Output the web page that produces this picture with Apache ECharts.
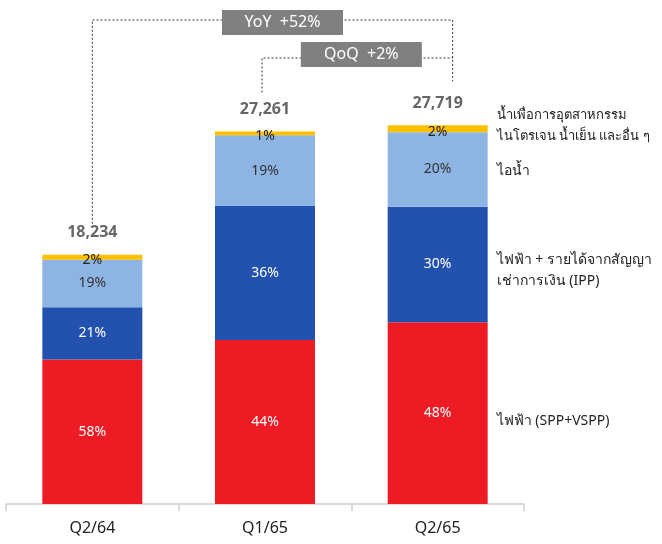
<!DOCTYPE html>
<html>
<head>
<meta charset="utf-8">
<script src="https://cdn.jsdelivr.net/npm/echarts@6/dist/echarts.min.js"></script>
<style>html,body{margin:0;padding:0;background:#fff}#c{width:662px;height:544px}</style>
</head>
<body>
<div id="c"></div>
<script>
const categories = ['Q2/64', 'Q1/65', 'Q2/65'];
const totals = [18234, 27261, 27719];
// segment values
const sppValues = [10576, 11995, 13300];
const ippValues = [3829, 9814, 8450];
const steamValues = [3464, 5180, 5450];
const otherValues = [365, 272, 519];
// percentage labels
const sppPct = [58, 44, 48];
const ippPct = [21, 36, 30];
const steamPct = [19, 19, 20];
const otherPct = [2, 1, 2];
const seriesNames = [
  'ไฟฟ้า (SPP+VSPP)',
  'ไฟฟ้า + รายได้จากสัญญา\nเช่าการเงิน (IPP)',
  'ไอน้ำ',
  'น้ำเพื่อการอุตสาหกรรม\nไนโตรเจน น้ำเย็น และอื่น ๆ'
];
const yoyText = 'YoY  +52%';
const qoqText = 'QoQ  +2%';

const FONT = "'Noto Sans', 'DejaVu Sans', sans-serif";
const colors = ['#ED1C24', '#2351AE', '#8DB4E2', '#FFC000'];
const valueSets = [sppValues, ippValues, steamValues, otherValues];
const pctSets = [sppPct, ippPct, steamPct, otherPct];
const labelColors = ['#ffffff', '#ffffff', '#333333', '#222222'];
const annoDy = [8, 6, 2, -3];
const annoSize = [14, 14, 14, 13];

const chart = echarts.init(document.getElementById('c'), null, {renderer: 'canvas'});

const last = categories.length - 1;
const series = valueSets.map((vals, si) => {
  let base = 0;
  for (let k = 0; k < si; k++) base += valueSets[k][last];
  const mid = base + vals[last] / 2;
  return {
    name: seriesNames[si],
    type: 'bar',
    stack: 'total',
    barWidth: 100,
    data: vals,
    itemStyle: {color: colors[si]},
    label: {
      show: true,
      position: 'inside',
      offset: si === 3 ? [0, 3] : [0, 0],
      color: labelColors[si],
      fontSize: 14,
      fontFamily: FONT,
      formatter: p => pctSets[si][p.dataIndex] + '%'
    },
    markPoint: {
      symbol: 'circle',
      symbolSize: 0,
      silent: true,
      data: [{coord: [categories[last], mid]}],
      label: {
        show: true,
        position: 'right',
        distance: 0,
        offset: [59, annoDy[si]],
        align: 'left',
        color: '#222',
        fontSize: annoSize[si],
        lineHeight: 21,
        fontFamily: FONT,
        formatter: () => seriesNames[si]
      }
    }
  };
});

series.push({
  type: 'scatter',
  data: totals,
  symbolSize: 0,
  silent: true,
  label: {
    show: true,
    position: 'top',
    distance: 14,
    color: '#404040',
    fontWeight: 'bold',
    fontSize: 16,
    fontFamily: FONT,
    formatter: p => p.value.toLocaleString('en-US')
  }
});

chart.setOption({
  animation: false,
  backgroundColor: '#ffffff',
  grid: {left: 6, right: 138, top: 12, bottom: 40},
  xAxis: {
    type: 'category',
    data: categories,
    axisLine: {lineStyle: {color: '#d0d0d0', width: 1.5}},
    axisTick: {show: true, length: 7, lineStyle: {color: '#d0d0d0', width: 1.5}},
    axisLabel: {color: '#222', fontSize: 16, margin: 16, fontFamily: FONT}
  },
  yAxis: {type: 'value', max: 36000, show: false},
  series: series
});

// connectors computed from data positions
const pts = categories.map((c, i) => chart.convertToPixel({gridIndex: 0}, [c, totals[i]]));
const xR = pts[2][0] + 15;
const yoyY = 20, qoqY = 58;
const dash = {stroke: '#333', lineWidth: 1, lineDash: [2, 2]};
const x1 = pts[0][0], x2 = pts[1][0] - 3;
const yoyCx = (x1 + xR) / 2 + 10;
const qoqCx = (x2 + xR) / 2 + 4;
const boxW = 121, boxH = 25;
chart.setOption({
  graphic: [
    {type: 'polyline', shape: {points: [[x1, pts[0][1] - 31], [x1, yoyY], [xR, yoyY], [xR, pts[2][1] - 44]]}, style: Object.assign({fill: null}, dash), silent: true},
    {type: 'polyline', shape: {points: [[x2, pts[1][1] - 39], [x2, qoqY], [xR, qoqY]]}, style: Object.assign({fill: null}, dash), silent: true},
    {type: 'rect', shape: {x: yoyCx - boxW / 2, y: 10, width: boxW, height: boxH}, style: {fill: '#808080'}, z: 10},
    {type: 'text', x: yoyCx, y: 10 + boxH / 2, style: {text: yoyText, fill: '#fff', fontSize: 16, fontFamily: FONT, align: 'center', verticalAlign: 'middle'}, z: 11},
    {type: 'rect', shape: {x: qoqCx - boxW / 2, y: 42, width: boxW, height: boxH}, style: {fill: '#808080'}, z: 10},
    {type: 'text', x: qoqCx, y: 42 + boxH / 2, style: {text: qoqText, fill: '#fff', fontSize: 16, fontFamily: FONT, align: 'center', verticalAlign: 'middle'}, z: 11}
  ]
});
</script>
</body>
</html>
